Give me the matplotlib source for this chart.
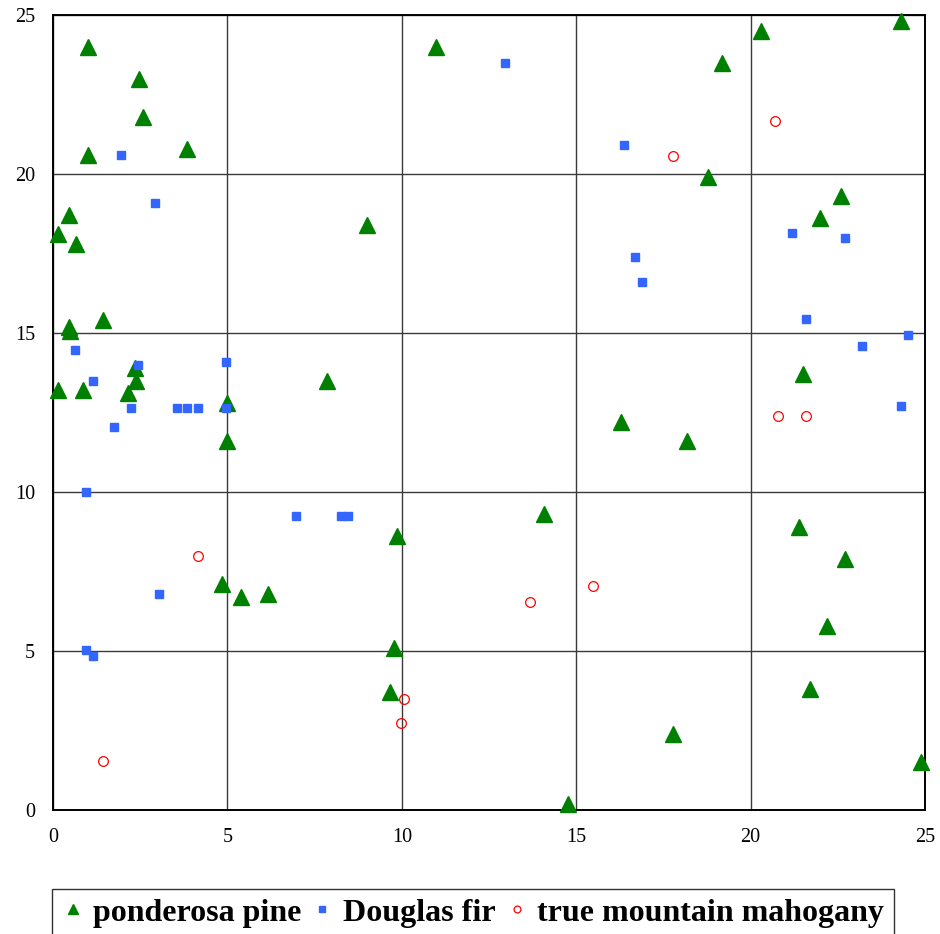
import matplotlib.pyplot as plt

# tree locations on a 25 x 25 plot
pine_x = [1.0, 2.47, 2.58, 1.0, 3.84, 0.14, 0.46, 0.66, 0.46, 0.5, 1.43, 0.14, 0.86,
          2.35, 2.38, 2.15, 4.99, 5.0, 7.86, 9.0, 10.98, 4.85, 5.39, 6.16, 9.86, 9.78,
          9.66, 14.08, 14.77, 16.28, 18.18, 17.78, 18.78, 19.18, 20.3, 24.3, 21.99,
          22.6, 21.5, 21.39, 22.7, 22.2, 21.7, 24.9]
pine_y = [24.0, 23.0, 21.8, 20.6, 20.8, 18.1, 18.7, 17.8, 15.2, 15.05, 15.4, 13.2, 13.2,
          13.9, 13.5, 13.1, 12.8, 11.6, 13.5, 18.4, 24.0, 7.1, 6.7, 6.8, 8.6, 5.1,
          3.7, 9.3, 0.2, 12.2, 11.6, 2.4, 19.9, 23.5, 24.5, 24.8, 18.6,
          19.3, 13.7, 8.9, 7.9, 5.8, 3.8, 1.5]

fir_x = [12.96, 1.95, 2.92, 0.63, 1.15, 2.44, 2.24, 1.75, 3.55, 3.84, 4.16, 4.96, 4.96,
         0.95, 6.97, 8.26, 8.46, 3.04, 0.95, 1.15, 16.37, 16.69, 16.89, 21.19, 22.71,
         21.59, 23.19, 24.5, 24.3]
fir_y = [23.5, 20.6, 19.1, 14.45, 13.5, 14.0, 12.65, 12.05, 12.65, 12.65, 12.65, 14.1, 12.65,
         10.0, 9.25, 9.25, 9.25, 6.8, 5.03, 4.85, 20.9, 17.4, 16.6, 18.15, 18.0,
         15.45, 14.6, 14.95, 12.7]

mahog_x = [20.7, 17.78, 20.79, 21.59, 4.16, 13.68, 15.48, 10.06, 9.98, 1.43]
mahog_y = [21.65, 20.55, 12.4, 12.4, 8.0, 6.55, 7.05, 3.5, 2.75, 1.55]

ticks = [0, 5, 10, 15, 20, 25]

plt.rcParams['font.family'] = ['Liberation Serif', 'DejaVu Serif']

fig = plt.figure(figsize=(9.4, 9.34), dpi=100)
ax = fig.add_axes([0.0564, 0.1328, 0.9276, 0.8512])

ax.plot(pine_x, pine_y, '^', color='#008000', markersize=11, linestyle='none',
        label='ponderosa pine', clip_on=False, zorder=3)
ax.plot(fir_x, fir_y, 's', color='#3366ff', markersize=5.5, linestyle='none',
        label='Douglas fir', clip_on=False, zorder=3)
ax.plot(mahog_x, mahog_y, 'o', markerfacecolor='none', markeredgecolor='red',
        markeredgewidth=0.9, markersize=7, linestyle='none',
        label='true mountain mahogany', clip_on=False, zorder=3)

ax.set_xlim(0, 25)
ax.set_ylim(0, 25)
ax.set_xticks(ticks)
ax.set_yticks(ticks)
ax.grid(True, color='#3a3a3a', linewidth=1)
ax.set_axisbelow(True)
ax.tick_params(length=0, labelsize=14.5, pad=13)
for s in ax.spines.values():
    s.set_linewidth(1.4)
    s.set_color('black')

fig.legend(loc='upper center', bbox_to_anchor=(0.503, 0.0485), ncol=3,
           prop={'weight': 'bold', 'size': 23}, frameon=True, fancybox=False,
           edgecolor='#333333', framealpha=1, handletextpad=0.3, columnspacing=0.3,
           handlelength=0.7, borderpad=0.3, borderaxespad=0, markerscale=0.7)

fig.savefig('out.png', dpi=100)
